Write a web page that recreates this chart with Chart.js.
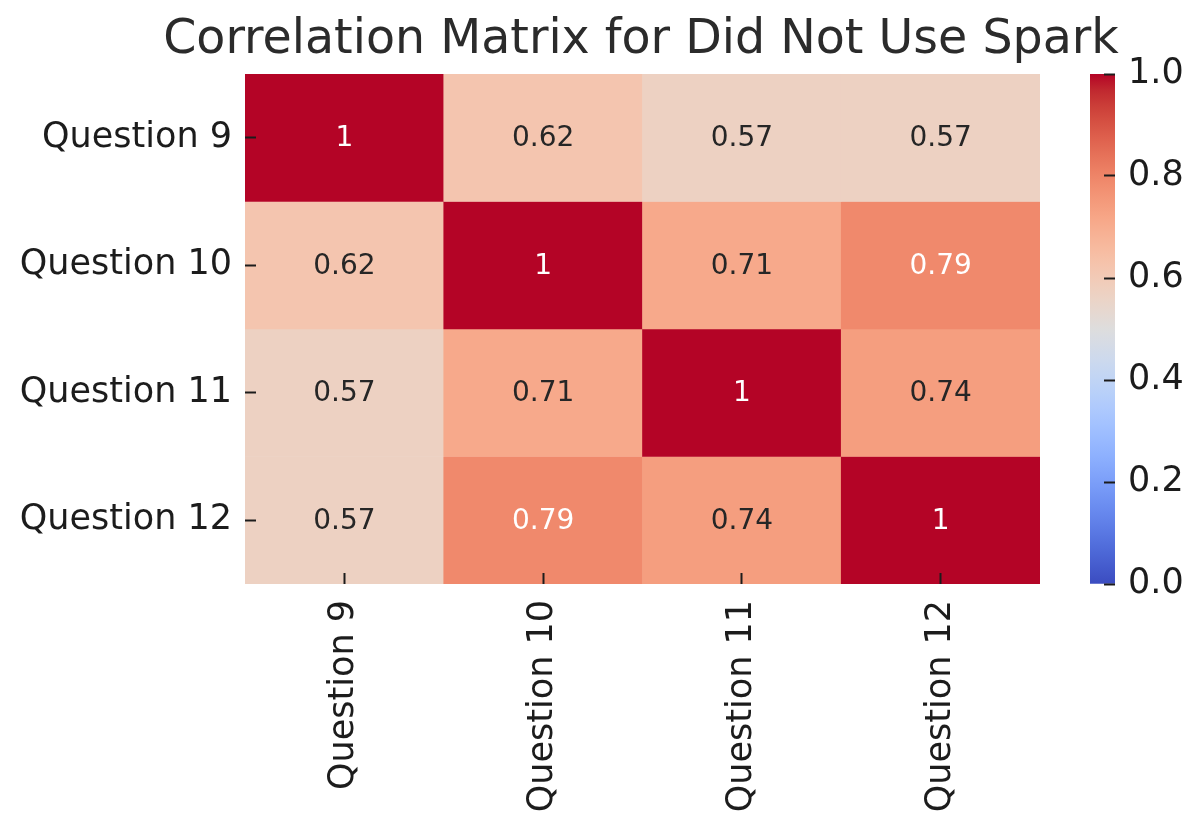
<!DOCTYPE html>
<html>
<head>
<meta charset="utf-8">
<script src="https://cdn.jsdelivr.net/npm/chart.js@4.4.1/dist/chart.umd.min.js"></script>
<style>
  html, body { margin: 0; padding: 0; background: #fff; overflow: hidden; }
  #wrap { position: relative; width: 1200px; height: 831px; overflow: hidden; }
  #heat { position: absolute; left: 0; top: 0; }
  #cbar { position: absolute; left: 1060px; top: 0; }
</style>
</head>
<body>
<div id="wrap">
  <canvas id="heat" width="1200" height="831"></canvas>
  <canvas id="cbar" width="140" height="831"></canvas>
</div>
<script>
// labels and correlation values (rows top to bottom)
const questions = ['Question 9', 'Question 10', 'Question 11', 'Question 12'];
const rowQ9 = [1, 0.62, 0.57, 0.57];
const rowQ10 = [0.62, 1, 0.71, 0.79];
const rowQ11 = [0.57, 0.71, 1, 0.74];
const rowQ12 = [0.57, 0.79, 0.74, 1];
const colorbarTicks = [0, 0.2, 0.4, 0.6, 0.8, 1.0];

const matrix = [rowQ9, rowQ10, rowQ11, rowQ12];

const FONT = '"DejaVu Sans", "Liberation Sans", sans-serif';
const LABEL_COLOR = '#1c1c1c';

// matplotlib coolwarm, 33 evenly spaced samples
const coolwarmStops = [
  [59, 76, 192], [68, 90, 204], [77, 104, 215], [87, 117, 225], [98, 130, 234],
  [108, 142, 241], [119, 154, 247], [130, 165, 251], [141, 176, 254], [152, 185, 255],
  [163, 194, 255], [174, 201, 253], [184, 208, 249], [194, 213, 244], [204, 217, 238],
  [213, 219, 230], [221, 221, 221], [229, 216, 209], [236, 211, 197], [241, 204, 185],
  [245, 196, 173], [247, 187, 160], [247, 177, 148], [247, 166, 135], [244, 154, 123],
  [241, 141, 111], [236, 127, 99], [229, 112, 88], [222, 96, 77], [213, 80, 66],
  [203, 62, 56], [192, 40, 47], [180, 4, 38]
];

function coolwarmRGB(v) {
  const t = Math.min(1, Math.max(0, v)) * (coolwarmStops.length - 1);
  const i = Math.min(Math.floor(t), coolwarmStops.length - 2);
  const f = t - i;
  const a = coolwarmStops[i], b = coolwarmStops[i + 1];
  return a.map((x, k) => Math.round(x + (b[k] - x) * f));
}

function coolwarm(v) {
  return 'rgb(' + coolwarmRGB(v).join(',') + ')';
}

// seaborn picks white / dark annotation text by luminance
function luminance(v) {
  const lin = coolwarmRGB(v).map(c => {
    c = c / 255;
    return c <= 0.03928 ? c / 12.92 : Math.pow((c + 0.055) / 1.055, 2.4);
  });
  return 0.2126 * lin[0] + 0.7152 * lin[1] + 0.0722 * lin[2];
}

const fmt = v => parseFloat(v.toPrecision(2)).toString();

const cellText = {
  id: 'cellText',
  afterDatasetsDraw(chart) {
    const ctx = chart.ctx;
    ctx.save();
    ctx.font = '28px ' + FONT;
    ctx.textAlign = 'center';
    ctx.textBaseline = 'middle';
    chart.data.datasets.forEach((ds, r) => {
      chart.getDatasetMeta(r).data.forEach((bar, c) => {
        const v = ds.corr[c];
        ctx.fillStyle = luminance(v) > 0.408 ? '#262626' : '#ffffff';
        ctx.fillText(fmt(v), bar.x, (bar.y + bar.base) / 2 + 1);
      });
    });
    ctx.restore();
  }
};

const tickGrid = len => ({
  display: true,
  drawOnChartArea: false,
  drawTicks: true,
  tickLength: len,
  tickWidth: 2,
  tickColor: LABEL_COLOR,
  offset: false,
  z: 1
});

new Chart(document.getElementById('heat'), {
  type: 'bar',
  data: {
    labels: questions,
    datasets: matrix.map((row, r) => ({
      label: questions[r],
      data: row.map(() => [r, r + 1]),
      corr: row,
      backgroundColor: row.map(v => coolwarm(v)),
      borderWidth: 0,
      barPercentage: 1,
      categoryPercentage: 1,
      grouped: false
    }))
  },
  options: {
    responsive: false,
    animation: false,
    devicePixelRatio: 1,
    // negative right padding widens the title box so it centres over the heatmap
    layout: { padding: { left: 0, right: -82, top: 0, bottom: 0 } },
    plugins: {
      legend: { display: false },
      tooltip: { enabled: false },
      title: {
        display: true,
        text: 'Correlation Matrix for Did Not Use Spark',
        color: '#2b2b2b',
        font: { family: FONT, size: 47.5, weight: 'normal', lineHeight: 1.2 },
        padding: { top: 12, bottom: 5 }
      }
    },
    scales: {
      x: {
        type: 'category',
        offset: true,
        grid: tickGrid(-11),
        border: { display: false },
        ticks: {
          color: LABEL_COLOR,
          font: { family: FONT, size: 35 },
          minRotation: 90,
          maxRotation: 90,
          autoSkip: false,
          padding: 27
        },
        afterFit: s => { s.height = 247; }
      },
      y: {
        type: 'linear',
        min: 0,
        max: 4,
        reverse: true,
        afterBuildTicks: s => { s.ticks = questions.map((q, i) => ({ value: i + 0.5 })); },
        grid: tickGrid(-11),
        border: { display: false },
        ticks: {
          color: LABEL_COLOR,
          font: { family: FONT, size: 35 },
          padding: 24,
          callback: v => questions[Math.floor(v)]
        },
        afterFit: s => { s.width = 245; }
      },
      // empty right axis reserving room for the colorbar
      y2: {
        type: 'linear',
        position: 'right',
        grid: { display: false },
        border: { display: false },
        ticks: { display: false },
        afterFit: s => { s.width = 242; }
      }
    }
  },
  plugins: [cellText]
});

// colorbar
new Chart(document.getElementById('cbar'), {
  type: 'bar',
  data: {
    labels: [''],
    datasets: [{
      data: [[0, 1]],
      backgroundColor: c => {
        const area = c.chart.chartArea;
        if (!area) return null;
        const g = c.chart.ctx.createLinearGradient(0, area.bottom, 0, area.top);
        coolwarmStops.forEach((rgb, i) => g.addColorStop(i / (coolwarmStops.length - 1), 'rgb(' + rgb.join(',') + ')'));
        return g;
      },
      borderWidth: 0,
      barPercentage: 1,
      categoryPercentage: 1
    }]
  },
  options: {
    responsive: false,
    animation: false,
    devicePixelRatio: 1,
    layout: { padding: { left: 30, right: 0, top: 74, bottom: 247 } },
    plugins: {
      legend: { display: false },
      tooltip: { enabled: false }
    },
    scales: {
      x: { display: false },
      y: {
        position: 'right',
        min: 0,
        max: 1,
        afterBuildTicks: s => { s.ticks = colorbarTicks.map(v => ({ value: v })); },
        grid: tickGrid(-11),
        border: { display: false },
        ticks: {
          color: LABEL_COLOR,
          font: { family: FONT, size: 35 },
          padding: 24,
          callback: v => v.toFixed(1)
        },
        afterFit: s => { s.width = 85; }
      }
    }
  }
});
</script>
</body>
</html>
